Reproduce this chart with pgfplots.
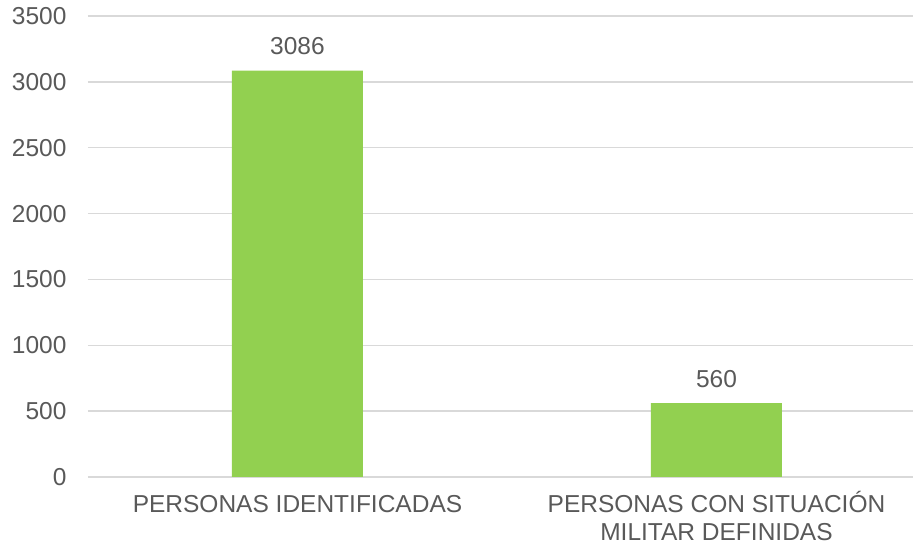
\documentclass[border=0pt]{standalone}
\usepackage{pgfplots}
\pgfplotsset{compat=1.18}
\usepackage{fontspec}
\setmainfont{Liberation Sans}
\definecolor{bargreen}{HTML}{92D050}
\definecolor{txtgray}{HTML}{595959}
\definecolor{gridgray}{HTML}{D9D9D9}
\begin{document}
\begin{tikzpicture}
\begin{axis}[
  name=ax,
  scale only axis,
  width=825pt, height=461pt,
  xmin=-0.5, xmax=1.469,
  ymin=0, ymax=3500,
  ytick={0,500,...,3500},
  xtick=data,
  xticklabels={{\vphantom{Ó}PERSONAS IDENTIFICADAS},{PERSONAS CON SITUACIÓN\\MILITAR DEFINIDAS}},
  ybar, bar width=131pt,
  axis line style={draw=none},
  major tick length=0pt,
  ymajorgrids,
  grid style={gridgray, line width=1.5pt},
  font=\fontsize{24.5}{28}\selectfont,
  ticklabel style={txtgray},
  yticklabel style={xshift=-18pt},
  xticklabel style={align=center, anchor=north, yshift=-11pt},
  /pgf/number format/assume math mode=true,
  /pgf/number format/1000 sep={},
  nodes near coords,
  every node near coord/.append style={txtgray, yshift=12pt},
  clip=false,
]
\addplot[fill=bargreen, draw=none] coordinates {(0,3086) (1,560)};
\end{axis}
\pgfresetboundingbox
\path[use as bounding box] ([xshift=-88pt,yshift=-68pt]ax.south west) rectangle ([yshift=16pt]ax.north east);
\end{tikzpicture}
\end{document}
